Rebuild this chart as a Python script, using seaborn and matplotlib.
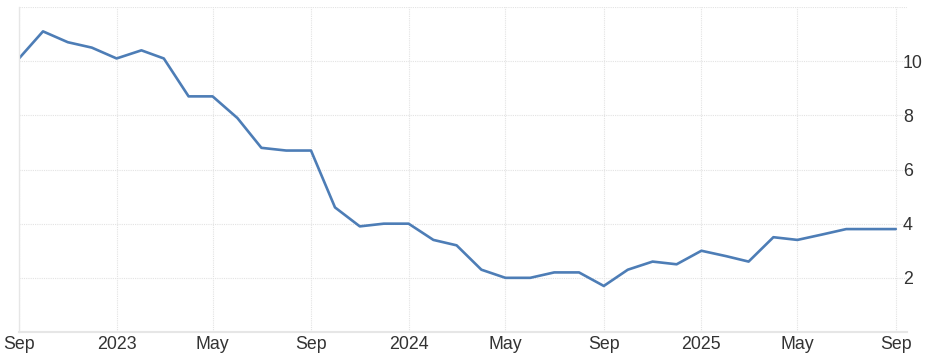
import matplotlib
matplotlib.use("Agg")
import matplotlib.pyplot as plt
import seaborn as sns
import pandas as pd

months = ["2022-09", "2022-10", "2022-11", "2022-12",
          "2023-01", "2023-02", "2023-03", "2023-04", "2023-05", "2023-06",
          "2023-07", "2023-08", "2023-09", "2023-10", "2023-11", "2023-12",
          "2024-01", "2024-02", "2024-03", "2024-04", "2024-05", "2024-06",
          "2024-07", "2024-08", "2024-09", "2024-10", "2024-11", "2024-12",
          "2025-01", "2025-02", "2025-03", "2025-04", "2025-05", "2025-06",
          "2025-07", "2025-08", "2025-09"]
inflation = [10.1, 11.1, 10.7, 10.5,
             10.1, 10.4, 10.1, 8.7, 8.7, 7.9,
             6.8, 6.7, 6.7, 4.6, 3.9, 4.0,
             4.0, 3.4, 3.2, 2.3, 2.0, 2.0,
             2.2, 2.2, 1.7, 2.3, 2.6, 2.5,
             3.0, 2.8, 2.6, 3.5, 3.4, 3.6,
             3.8, 3.8, 3.8]
tick_dates = ["2022-09", "2023-01", "2023-05", "2023-09", "2024-01",
              "2024-05", "2024-09", "2025-01", "2025-05", "2025-09"]
tick_labels = ["Sep", "2023", "May", "Sep", "2024", "May", "Sep", "2025", "May", "Sep"]
y_ticks = [2, 4, 6, 8, 10]

df = pd.DataFrame({"date": pd.to_datetime(months), "value": inflation})

sns.set_theme(style="white")
plt.rcParams["font.family"] = ["Liberation Sans", "DejaVu Sans"]

fig = plt.figure(figsize=(9.26, 3.59), dpi=100)
ax = fig.add_axes([19 / 926, 27 / 359, (907 - 19) / 926, (332 - 7) / 359])

sns.lineplot(data=df, x="date", y="value", ax=ax, color="#4d7db6", linewidth=1.9)

ax.set_xlim(pd.Timestamp("2022-09-01"), pd.Timestamp("2025-09-15"))
ax.set_ylim(0, 12)

ax.set_xticks(pd.to_datetime(tick_dates))
ax.set_xticklabels(tick_labels)
ax.set_yticks(y_ticks + [12])
ax.set_yticklabels([str(v) for v in y_ticks] + [""])
ax.yaxis.tick_right()

ax.grid(True, which="major", axis="both", color="#e3e3e3", linestyle=(0, (1, 1)), linewidth=0.8)
ax.set_axisbelow(True)

ax.tick_params(axis="x", length=0, pad=3, labelsize=12.8, labelcolor="#333333")
ax.tick_params(axis="y", length=0, pad=-3, labelsize=12.8, labelcolor="#333333")

for s in ["top", "right"]:
    ax.spines[s].set_visible(False)
ax.spines["left"].set_color("#e6e6e6")
ax.spines["left"].set_linewidth(1.0)
ax.spines["bottom"].set_color("#e6e6e6")
ax.spines["bottom"].set_linewidth(1.5)

ax.set_xlabel("")
ax.set_ylabel("")

fig.savefig("out.png", dpi=100, facecolor="white")
